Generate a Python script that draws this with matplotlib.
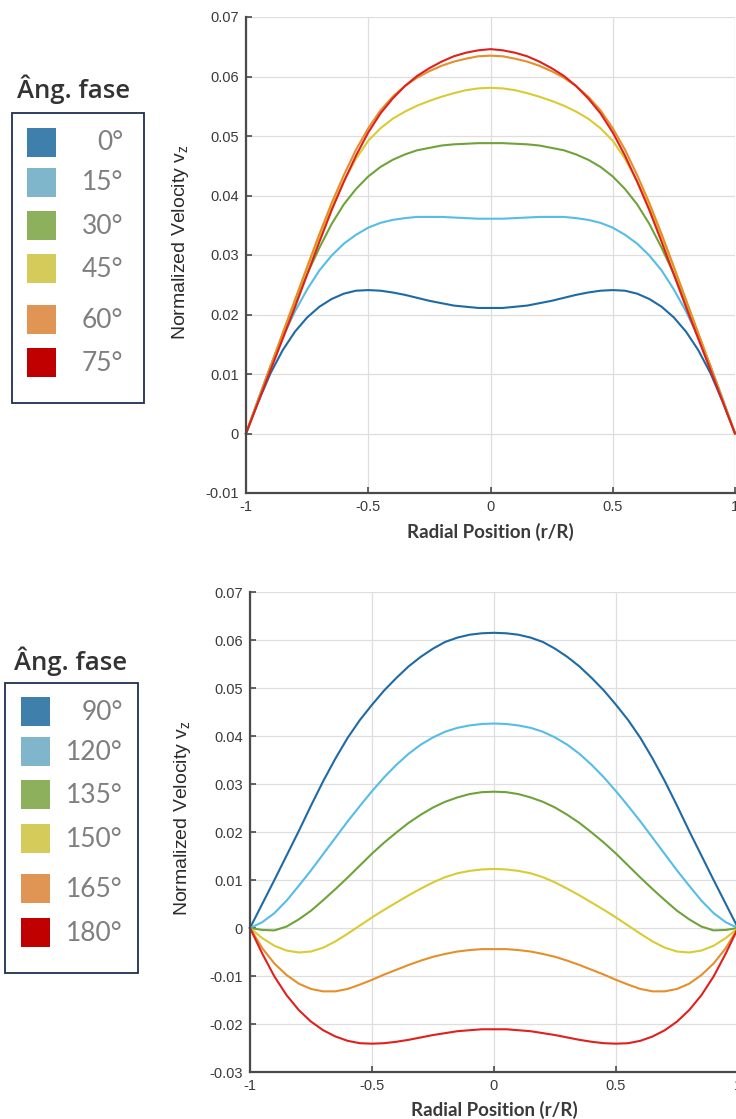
import matplotlib
matplotlib.use("Agg")
import matplotlib.pyplot as plt
from matplotlib.patches import Rectangle

# ---------------- data ----------------
r = [-1.00, -0.95, -0.90, -0.85, -0.80, -0.75, -0.70, -0.65, -0.60, -0.55, -0.50,
     -0.45, -0.40, -0.35, -0.30, -0.25, -0.20, -0.15, -0.10, -0.05, 0.00,
     0.05, 0.10, 0.15, 0.20, 0.25, 0.30, 0.35, 0.40, 0.45, 0.50,
     0.55, 0.60, 0.65, 0.70, 0.75, 0.80, 0.85, 0.90, 0.95, 1.00]

top_angles = [0, 15, 30, 45, 60, 75]
v_0 = [0, 0.0053, 0.0101, 0.0140, 0.0171, 0.0195, 0.0213, 0.0226, 0.0235, 0.0240, 0.0241,
       0.0240, 0.0237, 0.0233, 0.0228, 0.0223, 0.0219, 0.0215, 0.0213, 0.0211, 0.0211,
       0.0211, 0.0213, 0.0215, 0.0219, 0.0223, 0.0228, 0.0233, 0.0237, 0.0240, 0.0241,
       0.0240, 0.0235, 0.0226, 0.0213, 0.0195, 0.0171, 0.0140, 0.0101, 0.0053, 0]
v_15 = [0, 0.0058, 0.0113, 0.0162, 0.0205, 0.0242, 0.0274, 0.0299, 0.0319, 0.0334, 0.0346,
        0.0354, 0.0359, 0.0362, 0.0364, 0.0364, 0.0364, 0.0363, 0.0362, 0.0361, 0.0361,
        0.0361, 0.0362, 0.0363, 0.0364, 0.0364, 0.0364, 0.0362, 0.0359, 0.0354, 0.0346,
        0.0334, 0.0319, 0.0299, 0.0274, 0.0242, 0.0205, 0.0162, 0.0113, 0.0058, 0]
v_30 = [0, 0.0056, 0.0112, 0.0167, 0.0220, 0.0268, 0.0312, 0.0352, 0.0385, 0.0411, 0.0432,
        0.0448, 0.0460, 0.0469, 0.0476, 0.0480, 0.0484, 0.0486, 0.0487, 0.0488, 0.0488,
        0.0488, 0.0487, 0.0486, 0.0484, 0.0480, 0.0476, 0.0469, 0.0460, 0.0448, 0.0432,
        0.0411, 0.0385, 0.0352, 0.0312, 0.0268, 0.0220, 0.0167, 0.0112, 0.0056, 0]
v_45 = [0, 0.0056, 0.0112, 0.0168, 0.0224, 0.0278, 0.0331, 0.0380, 0.0424, 0.0462, 0.0492,
        0.0513, 0.0529, 0.0541, 0.0551, 0.0559, 0.0566, 0.0572, 0.0577, 0.0580, 0.0581,
        0.0580, 0.0577, 0.0572, 0.0566, 0.0559, 0.0551, 0.0541, 0.0529, 0.0513, 0.0492,
        0.0462, 0.0424, 0.0380, 0.0331, 0.0278, 0.0224, 0.0168, 0.0112, 0.0056, 0]
v_60 = [0, 0.0056, 0.0112, 0.0168, 0.0224, 0.0280, 0.0335, 0.0387, 0.0434, 0.0477, 0.0513,
        0.0543, 0.0566, 0.0584, 0.0598, 0.0609, 0.0618, 0.0625, 0.0630, 0.0634, 0.0635,
        0.0634, 0.0630, 0.0625, 0.0618, 0.0609, 0.0598, 0.0584, 0.0566, 0.0543, 0.0513,
        0.0477, 0.0434, 0.0387, 0.0335, 0.0280, 0.0224, 0.0168, 0.0112, 0.0056, 0]
v_75 = [0, 0.0053, 0.0106, 0.0159, 0.0212, 0.0267, 0.0322, 0.0375, 0.0423, 0.0467, 0.0506,
        0.0538, 0.0563, 0.0584, 0.0601, 0.0614, 0.0625, 0.0634, 0.0640, 0.0644, 0.0646,
        0.0644, 0.0640, 0.0634, 0.0625, 0.0614, 0.0601, 0.0584, 0.0563, 0.0538, 0.0506,
        0.0467, 0.0423, 0.0375, 0.0322, 0.0267, 0.0212, 0.0159, 0.0106, 0.0053, 0]

bot_angles = [90, 120, 135, 150, 165, 180]
v_90 = [0, 0.0050, 0.0100, 0.0151, 0.0202, 0.0255, 0.0306, 0.0353, 0.0396, 0.0433, 0.0465,
        0.0495, 0.0521, 0.0545, 0.0565, 0.0582, 0.0596, 0.0605, 0.0611, 0.0614, 0.0615,
        0.0614, 0.0611, 0.0605, 0.0596, 0.0582, 0.0565, 0.0545, 0.0521, 0.0495, 0.0465,
        0.0433, 0.0396, 0.0353, 0.0306, 0.0255, 0.0202, 0.0151, 0.0100, 0.0050, 0]
v_120 = [0, 0.0012, 0.0031, 0.0057, 0.0088, 0.0120, 0.0154, 0.0188, 0.0222, 0.0254, 0.0285,
         0.0314, 0.0340, 0.0363, 0.0382, 0.0397, 0.0409, 0.0417, 0.0422, 0.0425, 0.0426,
         0.0425, 0.0422, 0.0417, 0.0409, 0.0397, 0.0382, 0.0363, 0.0340, 0.0314, 0.0285,
         0.0254, 0.0222, 0.0188, 0.0154, 0.0120, 0.0088, 0.0057, 0.0031, 0.0012, 0]
v_135 = [0, -0.0004, -0.0005, 0.0003, 0.0018, 0.0036, 0.0058, 0.0081, 0.0105, 0.0130, 0.0155,
         0.0178, 0.0199, 0.0219, 0.0236, 0.0251, 0.0263, 0.0272, 0.0279, 0.0283, 0.0284,
         0.0283, 0.0279, 0.0272, 0.0263, 0.0251, 0.0236, 0.0219, 0.0199, 0.0178, 0.0155,
         0.0130, 0.0105, 0.0081, 0.0058, 0.0036, 0.0018, 0.0003, -0.0005, -0.0004, 0]
v_150 = [0, -0.0021, -0.0037, -0.0047, -0.0051, -0.0049, -0.0041, -0.0028, -0.0012, 0.0005, 0.0022,
         0.0038, 0.0053, 0.0068, 0.0082, 0.0095, 0.0106, 0.0114, 0.0119, 0.0122, 0.0123,
         0.0122, 0.0119, 0.0114, 0.0106, 0.0095, 0.0082, 0.0068, 0.0053, 0.0038, 0.0022,
         0.0005, -0.0012, -0.0028, -0.0041, -0.0049, -0.0051, -0.0047, -0.0037, -0.0021, 0]
v_165 = [0, -0.0042, -0.0074, -0.0098, -0.0116, -0.0127, -0.0132, -0.0132, -0.0127, -0.0118, -0.0108,
         -0.0097, -0.0087, -0.0077, -0.0068, -0.0060, -0.0054, -0.0049, -0.0046, -0.0044, -0.0044,
         -0.0044, -0.0046, -0.0049, -0.0054, -0.0060, -0.0068, -0.0077, -0.0087, -0.0097, -0.0108,
         -0.0118, -0.0127, -0.0132, -0.0132, -0.0127, -0.0116, -0.0098, -0.0074, -0.0042, 0]
v_180 = [0, -0.0053, -0.0101, -0.0140, -0.0171, -0.0195, -0.0213, -0.0226, -0.0235, -0.0240, -0.0241,
         -0.0240, -0.0237, -0.0233, -0.0228, -0.0223, -0.0219, -0.0215, -0.0213, -0.0211, -0.0211,
         -0.0211, -0.0213, -0.0215, -0.0219, -0.0223, -0.0228, -0.0233, -0.0237, -0.0240, -0.0241,
         -0.0240, -0.0235, -0.0226, -0.0213, -0.0195, -0.0171, -0.0140, -0.0101, -0.0053, 0]

x_ticks = [-1, -0.5, 0, 0.5, 1]
x_ticklabels = ['-1', '-0.5', '0', '0.5', '1']
top_yticks = [-0.01, 0, 0.01, 0.02, 0.03, 0.04, 0.05, 0.06, 0.07]
top_yticklabels = ['-0.01', '0', '0.01', '0.02', '0.03', '0.04', '0.05', '0.06', '0.07']
bot_yticks = [-0.03, -0.02, -0.01, 0, 0.01, 0.02, 0.03, 0.04, 0.05, 0.06, 0.07]
bot_yticklabels = ['-0.03', '-0.02', '-0.01', '0', '0.01', '0.02', '0.03', '0.04', '0.05', '0.06', '0.07']

line_colors = ['#1d6aa5', '#55bde6', '#6fa33a', '#d9cb33', '#e68f2a', '#e0201c']
patch_colors = ['#3f7fab', '#7fb6cc', '#8db05d', '#d5cb5b', '#e09555', '#c00000']

# ---------------- figure ----------------
W, H = 736, 1119
fig = plt.figure(figsize=(W / 100, H / 100), dpi=100)
fig.patch.set_facecolor('white')


def style_axes(ax, yticks, yticklabels, ylim):
    ax.set_xlim(-1, 1)
    ax.set_ylim(*ylim)
    ax.set_xticks(x_ticks)
    ax.set_xticklabels(x_ticklabels)
    ax.set_yticks(yticks)
    ax.set_yticklabels(yticklabels)
    for lab in ax.get_xticklabels() + ax.get_yticklabels():
        lab.set_fontfamily('Liberation Sans')
        lab.set_fontsize(10.5)
        lab.set_color('#3a3a3a')
    ax.grid(True, color='#dedede', linewidth=0.9)
    ax.set_axisbelow(True)
    ax.spines['top'].set_visible(False)
    ax.spines['right'].set_visible(False)
    for s in ('left', 'bottom'):
        ax.spines[s].set_color('#4a4a4a')
        ax.spines[s].set_linewidth(1.6)
    ax.tick_params(direction='in', length=4, width=1.2, color='#4a4a4a', pad=5)
    ax.set_ylabel('Normalized Velocity v$_{\\mathregular{z}}$', fontfamily='Liberation Sans',
                  fontsize=14, color='#2b2b2b')
    ax.set_xlabel('Radial Position (r/R)', fontfamily='Lato', fontsize=13.5,
                  fontweight='bold', color='#3a3a3a')


# top axes: x from 246 to 735 px, y from 17 to 493 px
ax1 = fig.add_axes([246 / W, 1 - 493 / H, (735 - 246) / W, (493 - 17) / H])
top_series = [v_0, v_15, v_30, v_45, v_60, v_75]
for vals, c in zip(top_series, line_colors):
    ax1.plot(r, vals, color=c, linewidth=1.5, clip_on=False, solid_joinstyle='round')
style_axes(ax1, top_yticks, top_yticklabels, (-0.01, 0.07))
ax1.yaxis.set_label_coords((191 - 246) / (735 - 246), 0.527)
ax1.xaxis.set_label_coords(0.5, -30 / 476)

# bottom axes: x from 250 to 738 px, y from 592 to 1072 px
ax2 = fig.add_axes([250 / W, 1 - 1072 / H, (738 - 250) / W, (1072 - 592) / H])
bot_series = [v_90, v_120, v_135, v_150, v_165, v_180]
for vals, c in zip(bot_series, line_colors):
    ax2.plot(r, vals, color=c, linewidth=1.5, clip_on=False, solid_joinstyle='round')
style_axes(ax2, bot_yticks, bot_yticklabels, (-0.03, 0.07))
ax2.yaxis.set_label_coords((193 - 250) / (738 - 250), 0.529)
ax2.xaxis.set_label_coords(0.5, -29 / 480)

# ---------------- legends (pixel overlay) ----------------
ov = fig.add_axes([0, 0, 1, 1], facecolor='none')
ov.set_xlim(0, W)
ov.set_ylim(H, 0)
ov.axis('off')


def draw_legend(title_x, title_y, box, patch_x, patch_w, centers, angles):
    bx0, by0, bx1, by1 = box
    ov.text(title_x, title_y, 'Âng. fase', ha='center', va='center',
            fontfamily='Open Sans', fontsize=18.5, fontweight='semibold', color='#333333')
    ov.add_patch(Rectangle((bx0, by0), bx1 - bx0, by1 - by0, facecolor='white',
                           edgecolor='#1f2f50', linewidth=1.3))
    for cy, a, pc in zip(centers, angles, patch_colors):
        ov.add_patch(Rectangle((patch_x, cy - patch_w / 2), patch_w, patch_w,
                               facecolor=pc, edgecolor='none'))
        ov.text(123, cy + 1, f'{a}°', ha='right', va='center', fontfamily='Lato',
                fontsize=19, fontweight='normal', color='#7f7f7f')


draw_legend(74, 89, (12, 113, 144, 403), 27, 29, [142, 182, 225.5, 268.5, 319, 362.5], top_angles)
draw_legend(71, 661, (5, 683, 138, 973), 21, 29, [711, 751.5, 794.5, 838.5, 888.5, 932.5], bot_angles)

fig.savefig('out.png', dpi=100, facecolor='white')
